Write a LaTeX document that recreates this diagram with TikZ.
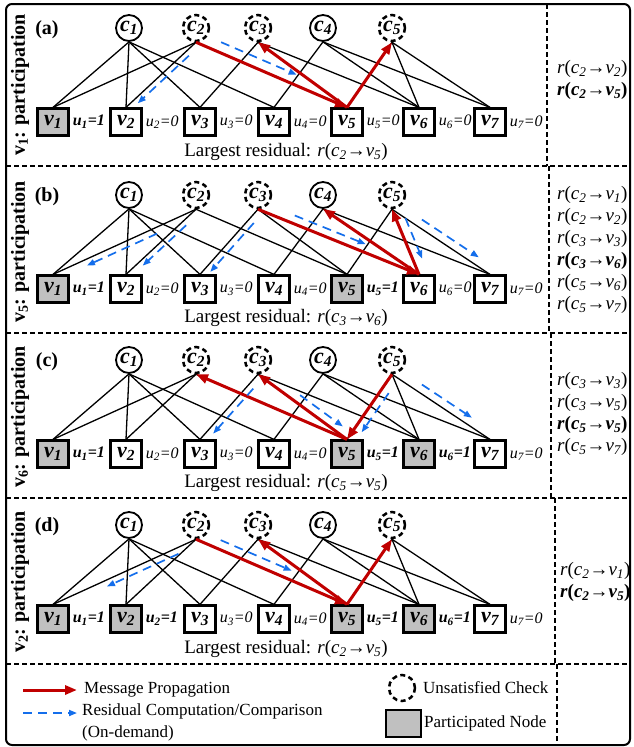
\documentclass[tikz,border=0pt]{standalone}
\usepackage{fontspec}
\setmainfont{Liberation Serif}
\usetikzlibrary{calc,arrows.meta}
\definecolor{msgred}{RGB}{192,0,0}
\definecolor{resblue}{RGB}{20,110,235}
\definecolor{partgray}{RGB}{192,192,192}
\tikzset{
 chk/.style={circle,draw,line width=1.8pt,minimum size=26pt,inner sep=0pt,font=\fontsize{22}{22}\selectfont\bfseries\itshape},
 unsat/.style={chk,line width=2.5pt,dash pattern=on 5pt off 3.5pt},
 var0/.style={rectangle,draw,line width=2.2pt,minimum width=31pt,minimum height=27pt,inner sep=0pt,fill=white,font=\fontsize{22}{22}\selectfont\bfseries\itshape},
 var1/.style={var0,fill=partgray},
 ulab0/.style={anchor=west,inner sep=0pt,font=\fontsize{16}{16}\selectfont\itshape},
 ulab1/.style={anchor=west,inner sep=0pt,font=\fontsize{16}{16}\selectfont\bfseries\itshape},
 tie/.style={line width=1.3pt},
 msg/.style={draw=msgred,line width=3pt,-{Triangle[length=12pt,width=9pt]}},
 res/.style={draw=resblue,line width=1.7pt,dash pattern=on 9pt off 6pt,-{Triangle[length=8pt,width=6pt]}},
 sep/.style={line width=2.6pt,dash pattern=on 5pt off 3pt},
 lbl/.style={rotate=90,font=\fontsize{20}{20}\selectfont\bfseries},
 plab/.style={font=\fontsize{20}{20}\selectfont\bfseries},
 largest/.style={font=\fontsize{19}{19}\selectfont},
 rcol/.style={anchor=west,align=left,inner sep=0pt,font=\fontsize{19}{22}\selectfont},
 legtxt/.style={inner sep=0pt,font=\fontsize{17}{22}\selectfont}
}
\newcommand\rr[2]{\textit{r}(\textit{c\textsubscript{#1}}→\textit{v\textsubscript{#2}})}
\newcommand\panel[3]{%
 \begin{scope}[shift={(0,#2)}]
  \foreach \x/\i/\s in {129/1/chk,196/2/unsat,258/3/unsat,323/4/chk,392/5/unsat}
    \node[\s] (#1c\i) at (\x,28) {c\textsubscript{\i}};
  \foreach \u [count=\i] in {#3} {
    \pgfmathsetmacro\vx{{53,126,200,274,347,419,490}[\i-1]}
    \node[var\u] (#1v\i) at (\vx,122) {v\textsubscript{\i}};
    \node[ulab\u] (#1u\i) at ([xshift=3pt]#1v\i.east) {u\textsubscript{\i}=\u};
  }
  \foreach \c/\v in {1/1,1/2,1/3,1/4,2/1,2/2,2/5,3/3,3/5,3/6,4/4,4/6,4/7,5/5,5/6,5/7}
    \draw[tie] (#1c\c.south) -- (#1v\v.north);
 \end{scope}}
\newcommand\resid[5]{%
 \path ($(#1.south)!#3!(#2.north)$) coordinate (tmpA) ($(#1.south)!#4!(#2.north)$) coordinate (tmpB);
 \draw[res] ($(tmpA)!#5!90:(tmpB)$) -- ($(tmpB)!#5!-90:(tmpA)$);}
\begin{document}
\begin{tikzpicture}[x=1pt,y=-1pt]
\useasboundingbox (0,0) rectangle (634,747);
% frame
\draw[line width=2pt,rounded corners=6pt] (6,4) rectangle (630,745);
\foreach \yy in {166,333,498,664} \draw[sep] (6,\yy) -- (630,\yy);
\draw[sep] (547,4) -- (547,166);
\draw[sep] (549,166) -- (549,333);
\draw[sep] (551,333) -- (551,498);
\draw[sep] (555,498) -- (555,664);
\draw[sep] (557,664) -- (557,745);
% panel a
\panel{a}{0}{1,0,0,0,0,0,0}
\draw[msg] (ac2.south) -- (av5.north);
\draw[msg] (av5.north) -- (ac3.south);
\draw[msg] (av5.north) -- (ac5.south);
\resid{ac2}{av2}{0.15}{0.88}{5pt}
\resid{ac2}{av5}{0.14}{0.64}{10pt}
\node[lbl] (alab) at (20,85) {v\textsubscript{1}: participation};
\node[plab] (atag) at (47,30) {(a)};
\node[largest] (alr) at (286,152) {Largest residual: \rr{2}{5}};
\node[rcol] (arc) at (557,80) {\rr{2}{2}\\\textbf{\rr{2}{5}}};
% panel b
\panel{b}{167}{1,0,0,0,1,0,0}
\draw[msg] (bc3.south) -- (bv6.north);
\draw[msg] (bv6.north) -- (bc4.south);
\draw[msg] (bv6.north) -- (bc5.south);
\resid{bc2}{bv1}{0.29}{0.78}{6pt}
\resid{bc2}{bv2}{0.19}{0.81}{5pt}
\resid{bc3}{bv3}{0.15}{0.9}{6pt}
\resid{bc3}{bv6}{0.21}{0.65}{8pt}
\resid{bc5}{bv6}{0.19}{0.81}{9pt}
\resid{bc5}{bv7}{0.26}{0.84}{8pt}
\node[lbl] (blab) at (20,252) {v\textsubscript{5}: participation};
\node[plab] (btag) at (47,197) {(b)};
\node[largest] (blr) at (286,318) {Largest residual: \rr{3}{6}};
\node[rcol] (brc) at (557,250) {\rr{2}{1}\\\rr{2}{2}\\\rr{3}{3}\\\textbf{\rr{3}{6}}\\\rr{5}{6}\\\rr{5}{7}};
% panel c
\panel{c}{332}{1,0,0,0,1,1,0}
\draw[msg] (cc5.south) -- (cv5.north);
\draw[msg] (cv5.north) -- (cc2.south);
\draw[msg] (cv5.north) -- (cc3.south);
\resid{cc3}{cv3}{0.16}{0.85}{6pt}
\resid{cc3}{cv5}{0.42}{0.9}{8pt}
\resid{cc5}{cv5}{0.22}{0.82}{8pt}
\resid{cc5}{cv7}{0.26}{0.77}{8pt}
\node[lbl] (clab) at (20,417) {v\textsubscript{6}: participation};
\node[plab] (ctag) at (47,362) {(c)};
\node[largest] (clr) at (286,483) {Largest residual: \rr{5}{5}};
\node[rcol] (crc) at (557,414) {\rr{3}{3}\\\rr{3}{5}\\\textbf{\rr{5}{5}}\\\rr{5}{7}};
% panel d
\panel{d}{497}{1,1,0,0,1,1,0}
\draw[msg] (dc2.south) -- (dv5.north);
\draw[msg] (dv5.north) -- (dc3.south);
\draw[msg] (dv5.north) -- (dc5.south);
\resid{dc2}{dv1}{0.14}{0.64}{6pt}
\resid{dc2}{dv5}{0.14}{0.61}{9pt}
\node[lbl] (dlab) at (20,582) {v\textsubscript{2}: participation};
\node[plab] (dtag) at (47,527) {(d)};
\node[largest] (dlr) at (286,649) {Largest residual: \rr{2}{5}};
\node[rcol] (drc) at (560,582) {\rr{2}{1}\\\textbf{\rr{2}{5}}};
% legend
\coordinate (lgA) at (23,690); \coordinate (lgB) at (77,690);
\draw[msg] (lgA) -- (lgB);
\node[legtxt,anchor=west] (lgMt) at (84,690) {Message Propagation};
\coordinate (lgC) at (23,713); \coordinate (lgD) at (77,713);
\draw[res] (lgC) -- (lgD);
\node[legtxt,anchor=north west,align=left] (lgRt) at (82,703) {Residual Computation/Comparison\\(On-demand)};
\node[unsat] (lgU) at (402,688) {};
\node[legtxt,anchor=west] (lgUt) at (423,688) {Unsatisfied Check};
\node[var1,minimum width=35pt,minimum height=27pt] (lgP) at (403.5,723.5) {};
\node[legtxt,anchor=west] (lgPt) at (424,723) {Participated Node};
\end{tikzpicture}
\end{document}
